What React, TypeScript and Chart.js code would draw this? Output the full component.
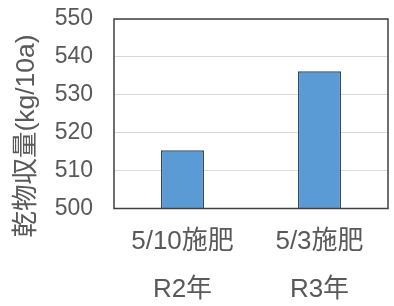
import React, { useEffect, useRef } from "react";
import { Chart, registerables } from "chart.js";

Chart.register(...registerables);

const fertLabels = ["5/10施肥", "5/3施肥"];
const yearLabels = ["R2年", "R3年"];
const yieldValues = [515.4, 536.2];
const yMin = 500;
const yMax = 550;
const yStep = 10;
const yTitle = "乾物収量(kg/10a)";

const frameAndTitle = {
  id: "frameAndTitle",
  afterDraw(chart: any) {
    const { ctx, chartArea } = chart;
    ctx.save();
    ctx.strokeStyle = "#404040";
    ctx.lineWidth = 1.5;
    ctx.strokeRect(
      chartArea.left,
      chartArea.top,
      chartArea.right - chartArea.left,
      chartArea.bottom - chartArea.top
    );
    ctx.translate(27, 136);
    ctx.rotate(-Math.PI / 2);
    ctx.fillStyle = "#595959";
    ctx.font = '26.5px "Liberation Sans", "Noto Sans CJK JP", sans-serif';
    ctx.textAlign = "center";
    ctx.textBaseline = "middle";
    ctx.fillText(yTitle, 0, 0);
    ctx.restore();
  },
};

export default function App() {
  const ref = useRef<HTMLCanvasElement | null>(null);
  useEffect(() => {
    if (!ref.current) return;
    const labels = fertLabels.map((f, i) => [f, "", yearLabels[i]]);
    const chart = new Chart(ref.current, {
      type: "bar",
      data: {
        labels,
        datasets: [
          {
            data: yieldValues,
            backgroundColor: "#5B9BD5",
            borderColor: "#2F4B68",
            borderWidth: 1.5,
            barPercentage: 0.314,
            categoryPercentage: 1,
          },
        ],
      },
      options: {
        animation: false,
        responsive: true,
        maintainAspectRatio: false,
        layout: { padding: { top: 19, right: 6, left: 0, bottom: 0 } },
        plugins: {
          legend: { display: false },
          tooltip: { enabled: false },
          title: { display: false },
        },
        scales: {
          x: {
            grid: { display: false, drawTicks: false },
            border: { display: false },
            ticks: {
              color: "#595959",
              padding: 21.5,
              maxRotation: 0,
              autoSkip: false,
              font: {
                family: '"Liberation Sans", "Noto Sans CJK JP", sans-serif',
                size: 26,
                lineHeight: 0.92,
              },
            },
            afterFit(scale: any) {
              scale.height = 306 - 208.5;
              scale.paddingLeft = 0;
              scale.paddingRight = 0;
            },
          },
          y: {
            min: yMin,
            max: yMax,
            grid: { color: "#D9D9D9", lineWidth: 1, drawTicks: false },
            border: { display: false },
            ticks: {
              stepSize: yStep,
              color: "#595959",
              padding: 21,
              font: {
                family: '"Liberation Sans", sans-serif',
                size: 23,
              },
            },
            afterFit(scale: any) {
              scale.width = 114;
              scale.paddingTop = 0;
              scale.paddingBottom = 0;
            },
          },
        },
      },
      plugins: [frameAndTitle],
    });
    return () => chart.destroy();
  }, []);
  return (
    <div
      style={{
        position: "absolute",
        left: 0,
        top: 0,
        width: 394,
        height: 306,
        background: "#fff",
      }}
    >
      <canvas ref={ref} />
    </div>
  );
}
